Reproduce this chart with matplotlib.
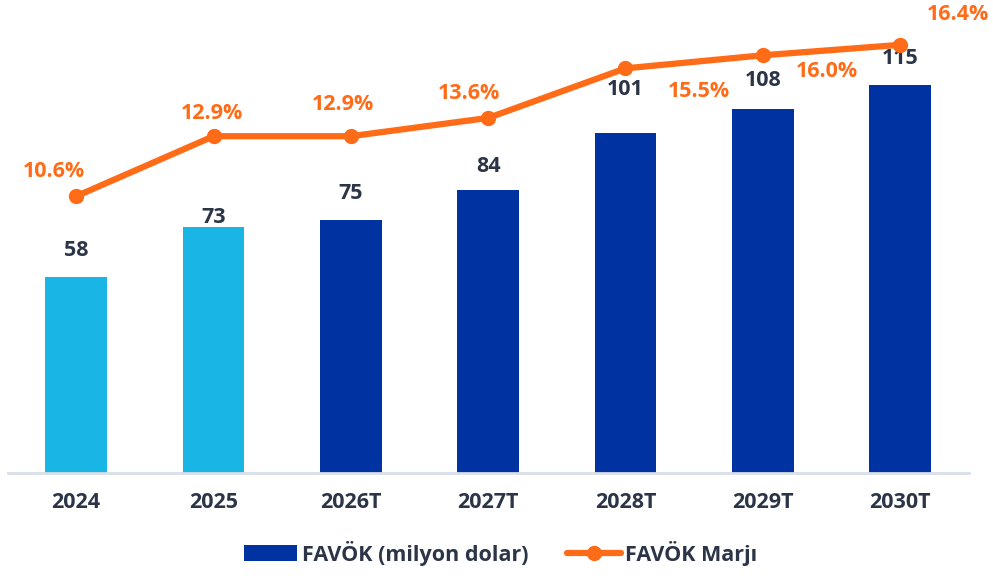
import matplotlib.pyplot as plt
from matplotlib.patches import Patch
import numpy as np

# data
years = ['2024', '2025', '2026T', '2027T', '2028T', '2029T', '2030T']
favok = [58, 73, 75, 84, 101, 108, 115]
marj = [10.6, 12.9, 12.9, 13.6, 15.5, 16.0, 16.4]
marj_labels = ['10.6%', '12.9%', '12.9%', '13.6%', '15.5%', '16.0%', '16.4%']

# colours
light_blue = '#19B5E5'
dark_blue = '#0033A1'
orange = '#FF6B17'
text_col = '#2B3547'
bar_colors = [light_blue, light_blue] + [dark_blue] * 5

# label offsets in pixels (layout only)
bar_lab_dy = [27, 9, 27, 23, 43, 28, 27]
marj_lab_dx = [-22, -2, -8, -19, 73, 64, 58]
marj_lab_dy = [25, 23, 32, 24, -23, -16, 30]

plt.rcParams['font.family'] = ['Open Sans', 'DejaVu Sans']
fs = 15.5

fig = plt.figure(figsize=(9.93, 5.81), dpi=100)
ax = fig.add_axes([0.0076, 0.186, 0.968, 0.797])
x = np.arange(len(years))

ax.bar(x, favok, width=0.45, color=bar_colors, zorder=2)
ax.set_xlim(-0.5, len(years) - 0.5)
ax.set_ylim(0, 137.4)
for i, v in enumerate(favok):
    ax.annotate(str(v), (x[i], v), xytext=(0, bar_lab_dy[i]),
                textcoords='offset pixels', ha='center', va='center',
                fontsize=fs, fontweight='bold', color=text_col)

ax.set_xticks(x)
ax.set_xticklabels(years, fontsize=fs, fontweight='bold', color=text_col)
ax.tick_params(axis='x', length=0, pad=14)
ax.set_yticks([])
for s in ['top', 'right', 'left']:
    ax.spines[s].set_visible(False)
ax.spines['bottom'].set_color('#D9DEE8')
ax.spines['bottom'].set_linewidth(2)

ax2 = ax.twinx()
ax2.set_ylim(0, 17.74)
ln, = ax2.plot(x, marj, color=orange, lw=4.5, marker='o', ms=10,
               solid_capstyle='round', zorder=3)
for i, v in enumerate(marj):
    ax2.annotate(marj_labels[i], (x[i], v),
                 xytext=(marj_lab_dx[i], marj_lab_dy[i]),
                 textcoords='offset pixels', ha='center', va='center',
                 fontsize=fs, fontweight='bold', color=orange)
ax2.axis('off')

bar_handle = Patch(facecolor=dark_blue)
leg = fig.legend([bar_handle, ln], ['FAVÖK (milyon dolar)', 'FAVÖK Marjı'],
                 loc='center', bbox_to_anchor=(0.504, 0.048), ncol=2,
                 frameon=False, handlelength=2.5, handleheight=0.75,
                 handletextpad=0.2, columnspacing=1.8,
                 prop={'size': fs, 'weight': 'bold'})
for t in leg.get_texts():
    t.set_color(text_col)

fig.savefig('out.png', dpi=100)
